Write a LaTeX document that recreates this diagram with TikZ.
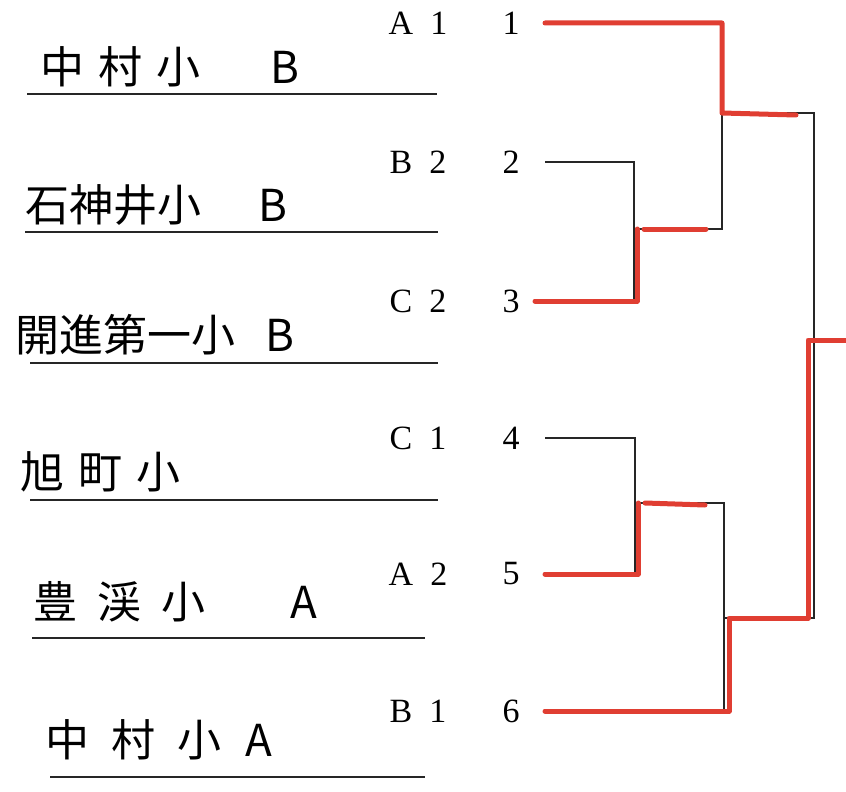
\documentclass[tikz,border=0pt]{standalone}
\usepackage{fontspec}
\newfontfamily\hand{Noto Sans CJK JP}
\newfontfamily\print{Liberation Serif}
\usetikzlibrary{positioning}
\definecolor{marker}{RGB}{224,62,50}
\newcommand\jg[1]{\hspace{#1pt}}
\begin{document}
\begin{tikzpicture}[x=1pt,y=-1pt,node distance=93pt]
\tikzstyle{seed}=[inner sep=0pt,font=\print\fontsize{34}{34}\selectfont]
\tikzstyle{team}=[inner sep=0pt,anchor=west,font=\hand\fontsize{44}{44}\selectfont]
\tikzstyle{rule}=[line width=1.3pt,black!85]
\tikzstyle{win}=[line width=5pt,marker,line cap=round,line join=round]
\useasboundingbox (0,0) rectangle (846,792);
\foreach \i/\s/\y in {1/A\enspace1/23,2/B\enspace2/162,3/C\enspace2/301,
                      4/C\enspace1/438,5/A\enspace2/574,6/B\enspace1/711}{
  \node[seed] (s\i) at (418,\y) {\s};
  \node[seed] (n\i) [right of=s\i] {\i};
  \coordinate (b\i) at (545,\y);
}
\node[team] (t1) at (40,67) {中\jg{14}村\jg{14}小\jg{70}B};
\node[team] (t2) at (25,205) {石神井小\jg{57}B};
\node[team] (t3) at (15,335) {開進第一小\jg{30}B};
\node[team] (t4) at (20,472) {旭\jg{14}町\jg{14}小};
\node[team] (t5) at (33,602) {豊\jg{20}渓\jg{20}小\jg{85}A};
\node[team] (t6) at (45,740) {中\jg{22}村\jg{22}小\jg{24}A};
\foreach \a/\b/\y in {27/437/94,25/438/232,30/438/363,30/438/500,32/425/638,50/425/777}
  \draw[rule] (\a,\y) -- (\b,\y);
\coordinate (q1) at (722,113);
\coordinate (q2) at (634,229);
\coordinate (q3) at (635,503);
\coordinate (q4) at (724,618);
\coordinate (f) at (814,340);
\coordinate (e) at (846,340);
\draw[rule] (b2) -| (q2) |- (b3);
\draw[rule] (q2) -- (q2 -| q1) |- (b1);
\draw[rule] (q1) -| (f) |- (q4);
\draw[rule] (f) -- (e);
\draw[rule] (b4) -| (q3) |- (b5);
\draw[rule] (q3) -| (q4) |- (b6);
\draw[win] (b1) -| (q1) -- ++(74,2);
\draw[win] ([xshift=-10]b3) -| ([xshift=3]q2);
\draw[win] ([xshift=10]q2) -- ++(62,0);
\draw[win] (b5) -| ([xshift=3]q3);
\draw[win] ([xshift=10]q3) -- ++(60,2);
\draw[win] (b6) -| ([xshift=5]q4) -| ([xshift=-6]f) -- (e);
\end{tikzpicture}
\end{document}
